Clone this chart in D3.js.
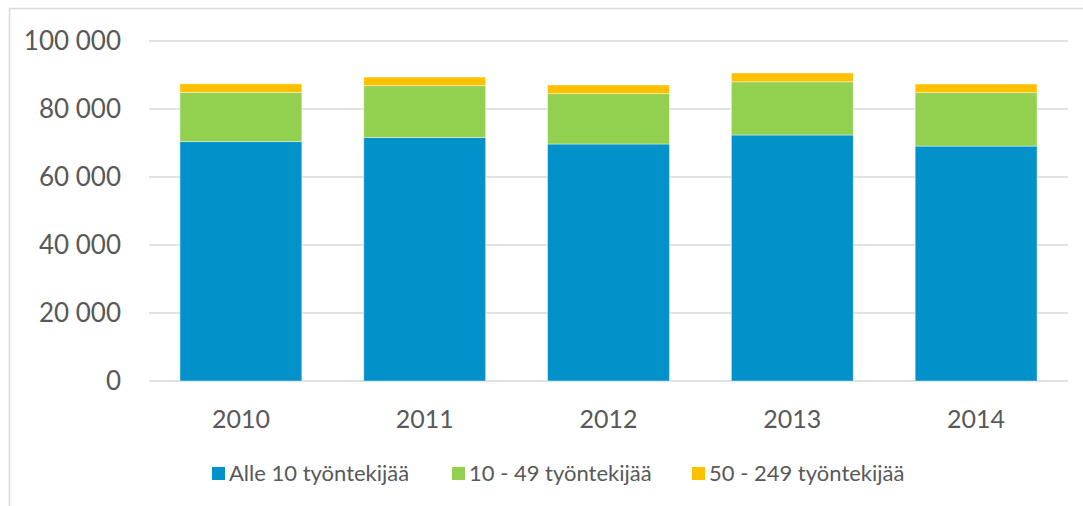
<!DOCTYPE html>
<html>
<head>
<meta charset="utf-8">
<script src="https://cdn.jsdelivr.net/npm/d3@7/dist/d3.min.js"></script>
<style>
  html, body { margin: 0; padding: 0; background: #fff; }
  svg { display: block; }
  text { font-family: Lato, "Open Sans", sans-serif; fill: #595959; }
</style>
</head>
<body>
<svg id="chart" width="1083" height="506"></svg>
<script>
const years = ["2010", "2011", "2012", "2013", "2014"];
const seriesNames = ["Alle 10 työntekijää", "10 - 49 työntekijää", "50 - 249 työntekijää"];
const alle10 = [70400, 71600, 69700, 72350, 69100];
const from10to49 = [14500, 15250, 14800, 15650, 15700];
const from50to249 = [2500, 2550, 2560, 2600, 2550];
const yTicks = [0, 20000, 40000, 60000, 80000, 100000];
const colors = ["#0291C9", "#92D050", "#FFC000"];

const svg = d3.select("#chart");
const W = 1083, H = 506;
const plot = { left: 149, right: 1068, top: 41, bottom: 381 };

// chart frame (partially cropped)
svg.append("rect")
  .attr("x", 9.5).attr("y", 8.5)
  .attr("width", W + 20).attr("height", H + 20)
  .attr("fill", "#fff").attr("stroke", "#D9D9D9").attr("stroke-width", 1.5);

const x = d3.scaleBand().domain(years).range([plot.left, plot.right])
  .paddingInner(0.337).paddingOuter(0.337 / 2);
const y = d3.scaleLinear().domain([0, 100000]).range([plot.bottom, plot.top]);

// gridlines
svg.append("g").selectAll("line").data(yTicks).join("line")
  .attr("x1", plot.left).attr("x2", plot.right)
  .attr("y1", d => y(d)).attr("y2", d => y(d))
  .attr("stroke", "#D9D9D9").attr("stroke-width", 1.5);

// y labels
const fmt = d => d3.format(",")(d).replace(/,/g, " ");
svg.append("g").selectAll("text").data(yTicks).join("text")
  .attr("x", 121).attr("y", d => y(d))
  .attr("dy", "0.36em")
  .attr("text-anchor", "end")
  .style("font-size", "26px")
  .text(fmt);

// stacked data
const table = years.map((yr, i) => ({ year: yr, s0: alle10[i], s1: from10to49[i], s2: from50to249[i] }));
const stack = d3.stack().keys(["s0", "s1", "s2"])(table);

svg.append("g").selectAll("g").data(stack).join("g")
  .attr("fill", (d, i) => colors[i])
  .selectAll("rect").data(d => d).join("rect")
  .attr("x", d => x(d.data.year))
  .attr("width", x.bandwidth())
  .attr("y", d => y(d[1]))
  .attr("height", d => y(d[0]) - y(d[1]))
  .attr("stroke", "#ffffff").attr("stroke-opacity", 0.5).attr("stroke-width", 0.8);

// x labels
svg.append("g").selectAll("text").data(years).join("text")
  .attr("x", d => x(d) + x.bandwidth() / 2)
  .attr("y", 428)
  .attr("text-anchor", "middle")
  .style("font-size", "25px")
  .text(d => d);

// legend
const legendX = [212, 452, 692];
const lg = svg.append("g").selectAll("g").data(seriesNames).join("g")
  .attr("transform", (d, i) => `translate(${legendX[i]},467)`);
lg.append("rect").attr("width", 13).attr("height", 13).attr("fill", (d, i) => colors[i]);
lg.append("text").attr("x", 17).attr("y", 6.5).attr("dy", "0.35em")
  .style("font-size", "22px").text(d => d);
</script>
</body>
</html>
